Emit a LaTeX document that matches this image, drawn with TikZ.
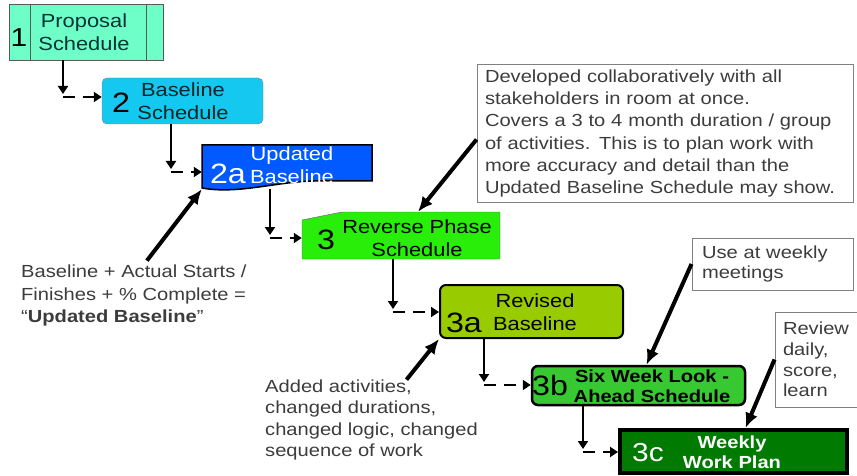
\documentclass[tikz,border=0pt]{standalone}
\usepackage{fontspec}
\setmainfont{Liberation Sans}[FakeStretch=1.15]
\usetikzlibrary{arrows.meta}

\definecolor{propfill}{RGB}{110,255,200}
\definecolor{basefill}{RGB}{20,200,240}
\definecolor{updfill}{RGB}{0,90,255}
\definecolor{revfill}{RGB}{40,238,10}
\definecolor{revisedfill}{RGB}{153,204,0}
\definecolor{sixfill}{RGB}{55,200,50}
\definecolor{weekfill}{RGB}{0,122,0}
\definecolor{notegray}{RGB}{60,60,60}

\begin{document}
\begin{tikzpicture}[x=1pt,y=-1pt,
  lbl/.style={align=center,inner sep=0,font=\fontsize{19}{23}\selectfont},
  boldlbl/.style={align=center,inner sep=0,font=\fontsize{17.5}{20}\selectfont\bfseries},
  num/.style={inner sep=0,font=\fontsize{28}{28}\selectfont},
  note/.style={align=left,inner sep=0,text=notegray,font=\fontsize{17.5}{21}\selectfont},
  notebox/.style={draw=gray,line width=1,text=notegray,align=left,inner xsep=8,
    font=\fontsize{17.5}{20.6}\selectfont},
  flowdown/.style={line width=2.5,-{Triangle[length=8,width=10]}},
  flowside/.style={line width=2.5,dash pattern=on 12 off 8,-{Triangle[length=8,width=10]}},
  callarrow/.style={line width=4,-{Latex[length=15,width=13]}}]
  \clip (0,0) rectangle (857,476);

  % 1: proposal
  \node[draw=gray!70!black,fill=propfill,minimum width=154,minimum height=56] (b1) at (86,32) {};
  \draw[gray!70!black] ([xshift=21]b1.north west) -- ([xshift=21]b1.south west);
  \draw[gray!70!black] ([xshift=-17]b1.north east) -- ([xshift=-17]b1.south east);
  \node[num,font=\fontsize{26}{26}\selectfont] (b1n) at (19,38) {1};
  \node[lbl,text=teal!40!black] (b1t) at (84,32) {Proposal\\Schedule};

  % 2: baseline
  \node[draw=gray,fill=basefill,rounded corners=5,minimum width=161,minimum height=46] (b2) at (182.5,101) {};
  \node[num] (b2n) at (121,103) {2};
  \node[lbl,text=teal!30!black] (b2t) at (183,101) {Baseline\\Schedule};

  % 2a: updated baseline (document shape)
  \draw[line width=1.5,fill=updfill] (202,145) -- (372,145) -- (372,181) -- (322,181)
    .. controls (280,180) and (240,195) .. (202,188) -- cycle;
  \node[minimum width=170,minimum height=44] (b2a) at (287,167) {};
  \node[num,text=white] (b2an) at (228,174) {2a};
  \node[lbl,text=white] (b2at) at (292,165) {Updated\\Baseline};

  % 3: reverse phase (cut corner)
  \draw[gray!80!black,fill=revfill] (302,220) -- (342,212) -- (500,212) -- (500,259) -- (302,259) -- cycle;
  \node[minimum width=198,minimum height=47] (b3) at (401,235.5) {};
  \node[num] (b3n) at (326,240) {3};
  \node[lbl] (b3t) at (417,238) {Reverse Phase\\Schedule};

  % 3a: revised baseline
  \node[draw,line width=2,fill=revisedfill,rounded corners=6,minimum width=183,minimum height=53] (b3a) at (531.5,311.5) {};
  \node[num] (b3an) at (464,323) {3a};
  \node[lbl] (b3at) at (535,312) {Revised\\Baseline};

  % 3b: six week look-ahead
  \node[draw,line width=2.5,fill=sixfill,rounded corners=6,minimum width=213,minimum height=39] (b3b) at (638.5,385.5) {};
  \node[num] (b3bn) at (550,385) {3b};
  \node[boldlbl] (b3bt) at (652,386) {Six Week Look -\\Ahead Schedule};

  % 3c: weekly work plan
  \node[draw,line width=4,fill=weekfill,minimum width=227,minimum height=43] (b3c) at (733.5,451.5) {};
  \node[num,text=white,font=\fontsize{26}{26}\selectfont] (b3cn) at (648,453) {3c};
  \node[boldlbl,text=white] (b3ct) at (732,452) {Weekly\\Work Plan};

  % elbow connectors
  \coordinate (k1) at (63,97);
  \coordinate (k2) at (171,172);
  \coordinate (k3) at (270,238);
  \coordinate (k4) at (393,312);
  \coordinate (k5) at (484,385);
  \coordinate (k6) at (583,452);
  \draw[flowdown] (b1.south -| k1) -- ([yshift=3]k1);
  \draw[flowside] (k1) -- (b2.west |- k1);
  \draw[flowdown] (b2.south -| k2) -- ([yshift=3]k2);
  \draw[flowside] (k2) -- (b2a.west |- k2);
  \draw[flowdown] (b2a.south -| k3) -- ([yshift=3]k3);
  \draw[flowside] (k3) -- (b3.west |- k3);
  \draw[flowdown] (b3.south -| k4) -- ([yshift=3]k4);
  \draw[flowside] (k4) -- (b3a.west |- k4);
  \draw[flowdown] (b3a.south -| k5) -- ([yshift=3]k5);
  \draw[flowside] (k5) -- (b3b.west |- k5);
  \draw[flowdown] (b3b.south -| k6) -- ([yshift=3]k6);
  \draw[flowside] (k6) -- (b3c.west |- k6);

  % notes
  \node[notebox,minimum width=376,minimum height=137,text width=360,
    font=\fontsize{17.5}{22.2}\selectfont] (c1) at (665,133.5)
    {Developed collaboratively with all\\stakeholders in room at once.\\Covers a 3 to 4 month duration / group\\of activities. This is to plan work with\\more accuracy and detail than the\\Updated Baseline Schedule may show.};
  \node[notebox,minimum width=161,minimum height=52,text width=141] (c2) at (772.5,264)
    {Use at weekly\\meetings};
  \node[notebox,minimum width=88,minimum height=95,text width=72] (c3) at (819,359.5)
    {Review\\daily,\\score,\\learn};
  \node[note,anchor=west,font=\fontsize{17.5}{22.5}\selectfont] (t1) at (21,295.5)
    {Baseline + Actual Starts /\\Finishes + \% Complete =\\“\textbf{Updated Baseline}”};
  \node[note,anchor=west,font=\fontsize{17.5}{21.3}\selectfont] (t2) at (265,420)
    {Added activities,\\changed durations,\\changed logic, changed\\sequence of work};

  % note arrows
  \draw[callarrow] ([yshift=-6]c1.west) -- ([xshift=17]b3.north);
  \draw[callarrow] ([xshift=13,yshift=4]t1.north) -- (b2a.south west);
  \draw[callarrow] ([xshift=35]t2.north) -- (b3a.south west);
  \draw[callarrow] (c2.west) -- ([xshift=8]b3b.north);
  \draw[callarrow] (c3.west) -- ([xshift=12]b3c.north);
\end{tikzpicture}
\end{document}
